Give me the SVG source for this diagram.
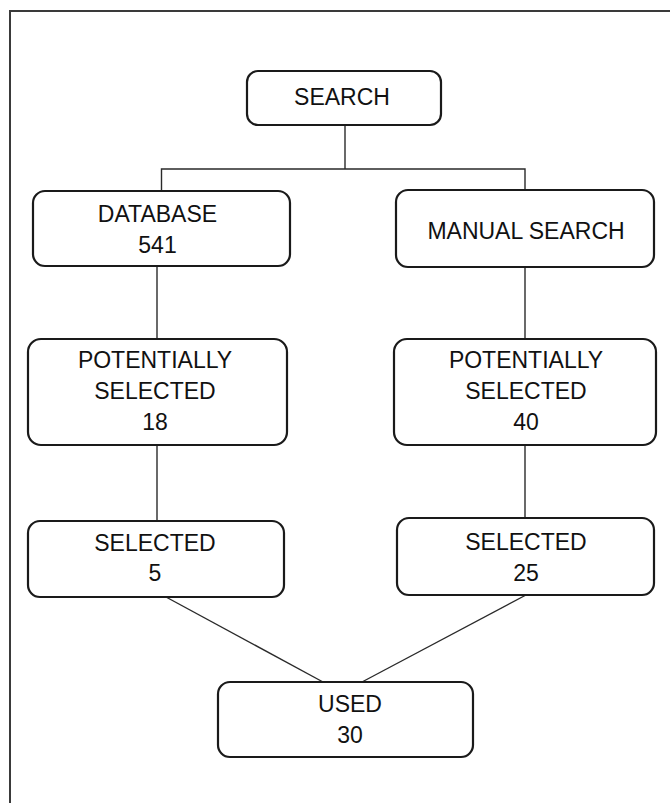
<svg xmlns="http://www.w3.org/2000/svg" width="670" height="803" viewBox="0 0 670 803">
  <style>
    .box { fill: #ffffff; stroke: #1a1a1a; stroke-width: 2.2; }
    .lbl { font-family: "Liberation Sans", Arial, Helvetica, sans-serif; font-size: 23px; fill: #111111; text-anchor: middle; }
    .wire { stroke: #2a2a2a; stroke-width: 1.4; fill: none; }
    .frame { stroke: #3a3a3a; stroke-width: 2; fill: none; }
  </style>
  <rect x="0" y="0" width="670" height="803" fill="#ffffff"/>
  <!-- outer frame: top and left edges -->
  <path class="frame" d="M10,803 V11 H670"/>

  <g id="connectors">
    <path class="wire" d="M345,125 V169"/>
    <path class="wire" d="M161.5,191 V169 H525 V190"/>
    <path class="wire" d="M157,266 V339"/>
    <path class="wire" d="M525,267 V339"/>
    <path class="wire" d="M157,445 V521"/>
    <path class="wire" d="M525,445 V518"/>
    <path class="wire" d="M166,597 L323,682"/>
    <path class="wire" d="M526,595 L362,682"/>
  </g>

  <g id="search">
    <rect class="box" x="247" y="71" width="194" height="54" rx="11"/>
    <text class="lbl" x="342" y="105">SEARCH</text>
  </g>

  <g id="database">
    <rect class="box" x="33" y="191" width="257" height="75" rx="12"/>
    <text class="lbl" x="157.5" y="222">DATABASE</text>
    <text class="lbl" x="157.5" y="253">541</text>
  </g>

  <g id="manual-search">
    <rect class="box" x="396" y="190" width="258" height="77" rx="12"/>
    <text class="lbl" x="526" y="239">MANUAL SEARCH</text>
  </g>

  <g id="potential-db">
    <rect class="box" x="28" y="339" width="259" height="106" rx="13"/>
    <text class="lbl" x="155" y="368">POTENTIALLY</text>
    <text class="lbl" x="155" y="399">SELECTED</text>
    <text class="lbl" x="155" y="430">18</text>
  </g>

  <g id="potential-manual">
    <rect class="box" x="394" y="339" width="262" height="106" rx="13"/>
    <text class="lbl" x="526" y="368">POTENTIALLY</text>
    <text class="lbl" x="526" y="399">SELECTED</text>
    <text class="lbl" x="526" y="430">40</text>
  </g>

  <g id="selected-db">
    <rect class="box" x="28" y="521" width="256" height="76" rx="12"/>
    <text class="lbl" x="155" y="551">SELECTED</text>
    <text class="lbl" x="155" y="581">5</text>
  </g>

  <g id="selected-manual">
    <rect class="box" x="397" y="518" width="257" height="77" rx="12"/>
    <text class="lbl" x="526" y="550">SELECTED</text>
    <text class="lbl" x="526" y="581">25</text>
  </g>

  <g id="used">
    <rect class="box" x="218" y="682" width="255" height="75" rx="12"/>
    <text class="lbl" x="350" y="712">USED</text>
    <text class="lbl" x="350" y="743">30</text>
  </g>
</svg>
